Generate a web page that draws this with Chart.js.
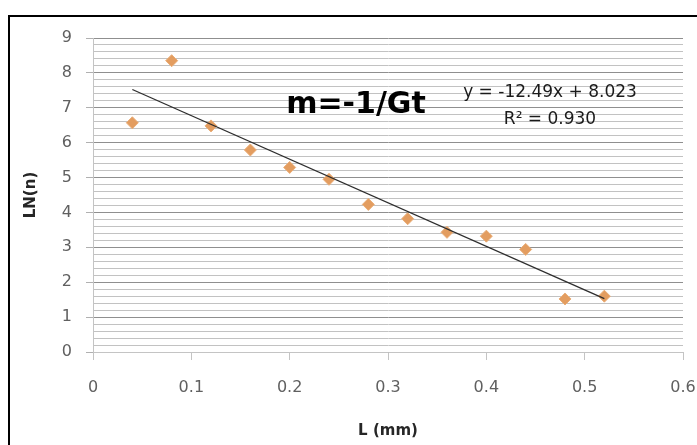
<!DOCTYPE html>
<html>
<head>
<meta charset="utf-8">
<script src="https://cdn.jsdelivr.net/npm/chart.js@4/dist/chart.umd.min.js"></script>
<style>
  html, body { margin: 0; padding: 0; background: #fff; }
  #wrap { position: relative; width: 697px; height: 445px; }
</style>
</head>
<body>
<div id="wrap"><canvas id="c" width="697" height="445"></canvas></div>
<script>
// Measured specimen lengths (mm) and ln(n)
const lengthMm = [0.04, 0.08, 0.12, 0.16, 0.20, 0.24, 0.28, 0.32, 0.36, 0.40, 0.44, 0.48, 0.52];
const lnN      = [6.57, 8.35, 6.48, 5.79, 5.29, 4.95, 4.23, 3.82, 3.43, 3.32, 2.94, 1.52, 1.60];

// Linear trend line as reported on the chart
const fitSlope = -12.49;
const fitIntercept = 8.023;
const fitR2 = '0.930';
const fitRange = [0.04, 0.52];

// Axis tick labels
const xTickValues = [0, 0.1, 0.2, 0.3, 0.4, 0.5, 0.6];
const yTickValues = [0, 1, 2, 3, 4, 5, 6, 7, 8, 9];

const FONT = '"DejaVu Sans", sans-serif';
const isMajor = v => Math.abs(v - Math.round(v)) < 1e-6;

const trendPoints = fitRange.map(x => ({ x, y: fitSlope * x + fitIntercept }));
const points = lengthMm.map((x, i) => ({ x, y: lnN[i] }));

const framePlugin = {
  id: 'frame',
  beforeDraw(chart) {
    const { ctx, width, height } = chart;
    ctx.save();
    ctx.fillStyle = '#fff';
    ctx.fillRect(0, 0, width, height);
    ctx.fillStyle = '#000';
    ctx.fillRect(8, 15, width - 8, 2);
    ctx.fillRect(8, 15, 2, height - 15);
    ctx.restore();
  }
};

const labelsPlugin = {
  id: 'fitLabels',
  afterDraw(chart) {
    const { ctx } = chart;
    ctx.save();
    ctx.textAlign = 'center';
    ctx.textBaseline = 'alphabetic';
    ctx.fillStyle = '#000';
    ctx.font = 'bold 30px ' + FONT;
    ctx.fillText('m=-1/Gt', 356, 113);
    ctx.fillStyle = '#1a1a1a';
    ctx.font = '17px ' + FONT;
    ctx.fillText('y = ' + fitSlope + 'x + ' + fitIntercept, 550, 97);
    ctx.fillText('R\u00B2 = ' + fitR2, 550, 124);
    ctx.restore();
  }
};

new Chart(document.getElementById('c'), {
  type: 'scatter',
  data: {
    datasets: [
      {
        label: 'trend',
        data: trendPoints,
        showLine: true,
        borderColor: '#2e2e2e',
        borderWidth: 1.3,
        pointRadius: 0,
        fill: false
      },
      {
        label: 'LN(n)',
        data: points,
        pointStyle: 'rectRot',
        pointRadius: 6,
        backgroundColor: '#E39D60',
        borderColor: '#EAAE78',
        borderWidth: 1
      }
    ]
  },
  options: {
    responsive: false,
    devicePixelRatio: 1,
    animation: false,
    layout: { padding: { left: 10, top: 38, right: 14, bottom: 0 } },
    plugins: {
      legend: { display: false },
      tooltip: { enabled: false }
    },
    scales: {
      x: {
        type: 'linear',
        position: 'bottom',
        min: 0,
        max: 0.6,
        afterBuildTicks: s => { s.ticks = xTickValues.map(v => ({ value: v })); },
        afterFit: s => { s.height = 93; s.paddingLeft = 0; s.paddingRight = 0; },
        ticks: {
          autoSkip: false,
          maxRotation: 0,
          padding: 18,
          color: '#606060',
          font: { family: FONT, size: 16 },
          callback: v => String(Math.round(v * 10) / 10)
        },
        grid: {
          drawOnChartArea: false,
          drawTicks: true,
          tickLength: 8,
          tickColor: '#c4c4c4'
        },
        border: { color: '#c4c4c4' },
        title: {
          display: true,
          text: 'L (mm)',
          color: '#262626',
          font: { family: FONT, size: 15, weight: 'bold' },
          padding: { top: 0, bottom: 5 }
        }
      },
      y: {
        type: 'linear',
        min: 0,
        max: 9,
        afterFit: s => { s.width = 83; s.paddingTop = 0; s.paddingBottom = 0; },
        ticks: {
          stepSize: 0.2,
          autoSkip: false,
          padding: 14,
          color: '#606060',
          font: { family: FONT, size: 16 },
          callback: v => (isMajor(v) && yTickValues.includes(Math.round(v))) ? String(Math.round(v)) : ''
        },
        grid: {
          tickLength: 7,
          color: c => (c.tick && isMajor(c.tick.value)) ? '#8f8f8f' : '#c2c2c2',
          tickColor: c => (c.tick && isMajor(c.tick.value)) ? '#b0b0b0' : 'rgba(0,0,0,0)'
        },
        border: { color: '#c4c4c4' },
        title: {
          display: true,
          text: 'LN(n)',
          color: '#262626',
          font: { family: FONT, size: 15, weight: 'bold' },
          padding: { top: 12, bottom: 0 }
        }
      }
    }
  },
  plugins: [framePlugin, labelsPlugin]
});
</script>
</body>
</html>
